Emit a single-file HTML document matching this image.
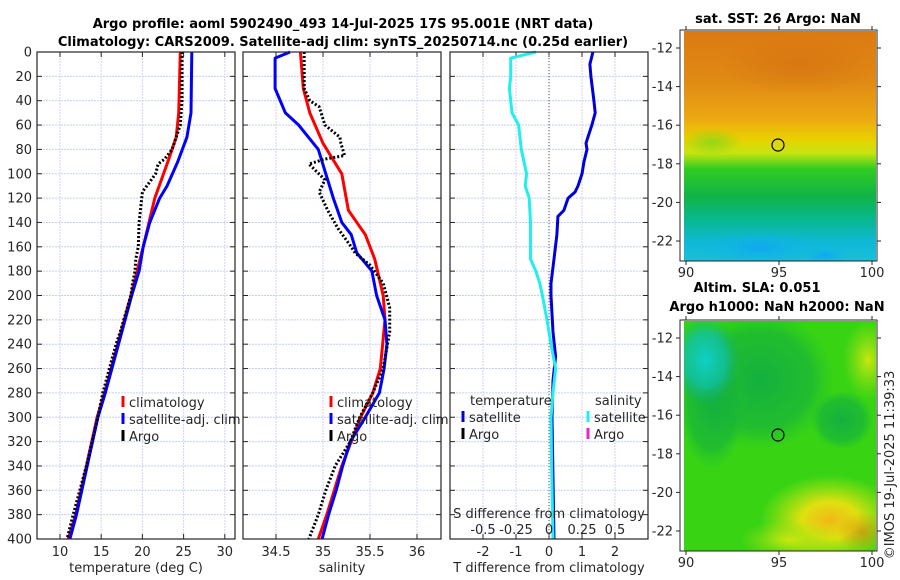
<!DOCTYPE html>
<html><head><meta charset="utf-8">
<style>
html,body{margin:0;padding:0;background:#fff;}
svg{display:block;font-family:"DejaVu Sans","Liberation Sans",sans-serif;}
.tk{font-size:13px;fill:#262626;}
.tt{font-size:13px;font-weight:bold;fill:#000;}
</style></head>
<body>
<svg id="fig" width="900" height="580" viewBox="0 0 900 580" xmlns="http://www.w3.org/2000/svg">
<defs>
<clipPath id="clip1"><rect x="684" y="31" width="192" height="230"/></clipPath>
<clipPath id="clip2"><rect x="684" y="321" width="192" height="230"/></clipPath>
<linearGradient id="sstg" x1="0" y1="0" x2="0" y2="1">
<stop offset="0" stop-color="#dc7a12"/>
<stop offset="0.22" stop-color="#e08a14"/>
<stop offset="0.38" stop-color="#eda812"/>
<stop offset="0.47" stop-color="#e9d000"/>
<stop offset="0.53" stop-color="#c8e410"/>
<stop offset="0.6" stop-color="#30cc20"/>
<stop offset="0.72" stop-color="#10b448"/>
<stop offset="0.82" stop-color="#08b890"/>
<stop offset="0.92" stop-color="#10b8d8"/>
<stop offset="1" stop-color="#18c0d8"/>
</linearGradient>
<radialGradient id="cyanblob" cx="0.5" cy="0.5" r="0.5">
<stop offset="0" stop-color="#10d0c8"/><stop offset="0.6" stop-color="#10c0a0" stop-opacity="0.8"/><stop offset="1" stop-color="#10b070" stop-opacity="0"/>
</radialGradient>
<radialGradient id="darkgreen" cx="0.5" cy="0.5" r="0.5">
<stop offset="0" stop-color="#14b040"/><stop offset="0.7" stop-color="#18b438" stop-opacity="0.7"/><stop offset="1" stop-color="#20c030" stop-opacity="0"/>
</radialGradient>
<radialGradient id="yellowblob" cx="0.5" cy="0.5" r="0.5">
<stop offset="0" stop-color="#f0b818"/><stop offset="0.4" stop-color="#e0e010"/><stop offset="1" stop-color="#c0e810" stop-opacity="0"/>
</radialGradient>
<radialGradient id="ylgr" cx="0.5" cy="0.5" r="0.5">
<stop offset="0" stop-color="#c8e810"/><stop offset="1" stop-color="#a0e010" stop-opacity="0"/>
</radialGradient>
<radialGradient id="blueblob" cx="0.5" cy="0.5" r="0.5">
<stop offset="0" stop-color="#10a8f0"/><stop offset="1" stop-color="#10b8e0" stop-opacity="0"/>
</radialGradient>
<radialGradient id="greensoft" cx="0.5" cy="0.5" r="0.5">
<stop offset="0" stop-color="#60d820" stop-opacity="0.6"/><stop offset="1" stop-color="#60d820" stop-opacity="0"/>
</radialGradient>
<radialGradient id="orangesoft" cx="0.5" cy="0.5" r="0.5">
<stop offset="0" stop-color="#d06a10" stop-opacity="0.5"/><stop offset="1" stop-color="#d06a10" stop-opacity="0"/>
</radialGradient>
</defs>

<text class="tt" x="343" y="28" text-anchor="middle">Argo profile: aoml 5902490_493 14-Jul-2025 17S 95.001E (NRT data)</text>
<text class="tt" x="343" y="46" text-anchor="middle">Climatology: CARS2009. Satellite-adj clim: synTS_20250714.nc (0.25d earlier)</text>

<g id="p1"></g>
<g id="p2"></g>
<g id="p3"></g>

<!-- Map 1 -->
<g>
<text class="tt" x="778" y="23" text-anchor="middle">sat. SST: 26 Argo: NaN</text>
<g clip-path="url(#clip1)">
<rect x="684" y="31" width="192" height="230" fill="url(#sstg)"/>
<ellipse cx="712" cy="142" rx="30" ry="14" fill="url(#greensoft)"/>
<ellipse cx="760" cy="248" rx="60" ry="18" fill="url(#blueblob)"/>
<ellipse cx="825" cy="255" rx="25" ry="10" fill="url(#blueblob)"/>
<ellipse cx="800" cy="65" rx="80" ry="30" fill="url(#orangesoft)"/>
</g>
<rect x="680" y="30" width="197" height="231" fill="none" stroke="#262626" stroke-width="1"/>
<circle cx="778" cy="145" r="6" fill="none" stroke="#000" stroke-width="1.2"/>
<g id="m1ticks"></g>
</g>

<!-- Map 2 -->
<g>
<text class="tt" x="757" y="292" text-anchor="middle">Altim. SLA: 0.051</text>
<text class="tt" x="777" y="311" text-anchor="middle">Argo h1000: NaN h2000: NaN</text>
<g clip-path="url(#clip2)">
<rect x="684" y="321" width="192" height="230" fill="#38d414"/>
<ellipse cx="760" cy="380" rx="75" ry="70" fill="url(#darkgreen)"/>
<ellipse cx="712" cy="400" rx="35" ry="70" fill="url(#darkgreen)"/>
<ellipse cx="842" cy="420" rx="32" ry="30" fill="url(#darkgreen)"/>
<ellipse cx="705" cy="360" rx="35" ry="45" fill="url(#cyanblob)"/>
<ellipse cx="830" cy="520" rx="70" ry="45" fill="url(#yellowblob)"/>
<ellipse cx="790" cy="540" rx="50" ry="20" fill="url(#ylgr)"/>
<ellipse cx="868" cy="360" rx="25" ry="40" fill="url(#ylgr)"/>
<ellipse cx="862" cy="532" rx="25" ry="20" fill="url(#orangesoft)"/>
</g>
<rect x="680" y="320" width="197" height="231" fill="none" stroke="#262626" stroke-width="1"/>
<circle cx="778" cy="435" r="6" fill="none" stroke="#000" stroke-width="1.2"/>
<g id="m2ticks"></g>
</g>

<text class="tk" transform="translate(894,465) rotate(-90)" text-anchor="middle">©IMOS 19-Jul-2025 11:39:33</text>
</svg>

<script>
// ---------------- DATA ----------------
const depthTicks = [0,20,40,60,80,100,120,140,160,180,200,220,240,260,280,300,320,340,360,380,400];
const tTicks = [10,15,20,25,30];
const sTicks = [34.5,35,35.5,36];
const dtTicks = [-2,-1,0,1,2];
const dsTicks = [-0.5,-0.25,0,0.25,0.5];
const dsTickLabels = ["-0.5","-0.25","0","0.25","0.5"];

const climTDepth = [0,50,70,90,120,160,200,240,280,300,340,380,400];
const climT      = [24.6,24.4,24.1,23.1,21.5,20.1,18.6,17.0,15.4,14.5,13.2,11.9,11.0];
const satTDepth  = [0,50,70,90,110,120,140,160,180,200,240,280,300,340,380,400];
const satT       = [26.0,25.9,25.4,24.3,23.0,22.1,20.9,20.1,19.6,18.7,17.1,15.5,14.6,13.3,12.0,11.2];
const argoTDepth = [0,40,60,70,80,88,92,100,115,140,160,170,180,190,200,230,240,280,300,340,380,400];
const argoT      = [24.8,24.8,24.6,24.1,23.6,22.7,21.9,21.6,20.0,19.6,19.5,19.2,19.1,18.8,18.6,17.3,16.8,15.2,14.6,13.2,11.6,10.85];

const climSDepth = [0,30,50,75,100,130,150,170,200,220,260,280,300,340,380,400];
const climS      = [34.76,34.79,34.86,35.0,35.2,35.27,35.45,35.55,35.64,35.66,35.61,35.53,35.4,35.2,35.04,34.95];
const satSDepth  = [0,5,30,50,60,80,100,120,140,150,165,180,200,220,240,260,280,300,320,340,360,380,400];
const satS       = [34.65,34.49,34.49,34.6,34.74,34.95,35.03,35.11,35.2,35.3,35.36,35.52,35.57,35.66,35.68,35.65,35.6,35.45,35.29,35.21,35.14,35.06,34.99];
const argoSDepth = [0,30,40,45,60,70,75,85,88,92,95,105,115,130,145,160,165,175,190,210,230,260,280,300,320,340,360,380,400];
const argoS      = [34.8,34.8,34.86,34.96,35.02,35.18,35.19,35.23,35.02,34.85,34.89,35.02,34.96,35.05,35.16,35.3,35.34,35.5,35.64,35.71,35.71,35.64,35.53,35.39,35.29,35.13,35.03,34.95,34.85];

const dTDepth = [0,10,20,40,50,60,70,75,80,90,100,110,115,120,130,135,150,170,190,200,215,230,250,270,300,350,400];
const dT      = [1.33,1.24,1.27,1.36,1.4,1.3,1.18,1.12,1.15,1.06,1.0,0.88,0.79,0.58,0.45,0.27,0.24,0.15,0.06,0.06,0.09,0.12,0.2,0.12,0.09,0.12,0.15];
const dSDepth = [0,5,20,30,50,60,80,90,100,110,120,140,160,170,180,190,200,220,240,260,280,300,340,400];
const dS      = [-0.1,-0.29,-0.29,-0.3,-0.28,-0.23,-0.21,-0.19,-0.17,-0.18,-0.15,-0.14,-0.14,-0.14,-0.1,-0.07,-0.05,-0.015,0.015,0.05,0.03,0.015,0.02,0.03];

const mapLonTicks = [90,95,100];
const mapLatTicks = [-12,-14,-16,-18,-20,-22];

// ---------------- AXES ----------------
const NS = "http://www.w3.org/2000/svg";
const Y0 = 52, Y1 = 539;
const yD = d => Y0 + d * (Y1 - Y0) / 400;
const P1 = {l:37, r:235};
const P2 = {l:243, r:441};
const P3 = {l:450, r:648};
const xT = t => 60 + (t - 10) * 8.24;
const xS = s => 323 + (s - 35) * 94;
const xDT = v => 549 + v * 33;
const xDS = v => 549 + v * 132;
const lonX = lon => 686 + (lon - 90) * 18.6;
const latY1 = lat => 48 + (-12 - lat) * 19.3;
const latY2 = lat => 338 + (-12 - lat) * 19.3;

function mk(tag, attrs, parent, text) {
  const e = document.createElementNS(NS, tag);
  for (const k in attrs) e.setAttribute(k, attrs[k]);
  if (text !== undefined) e.textContent = text;
  parent.appendChild(e);
  return e;
}

function frame(g, P, xs, xf, labels, showY, xlabel) {
  mk('rect', {x:P.l, y:Y0, width:P.r-P.l, height:Y1-Y0, fill:'#fff'}, g);
  depthTicks.forEach(d => {
    if (d>0 && d<400) mk('line', {x1:P.l, x2:P.r, y1:yD(d), y2:yD(d), stroke:'#c6cff2', 'stroke-width':1, 'stroke-dasharray':'2,1'}, g);
  });
  xs.forEach(v => {
    const x = xf(v);
    if (x > P.l+1 && x < P.r-1) mk('line', {x1:x, x2:x, y1:Y0, y2:Y1, stroke:'#d2d2f0', 'stroke-width':1, 'stroke-dasharray':'2,1'}, g);
  });
  depthTicks.forEach(d => {
    mk('line', {x1:P.l, x2:P.l+5, y1:yD(d), y2:yD(d), stroke:'#262626'}, g);
    mk('line', {x1:P.r, x2:P.r-5, y1:yD(d), y2:yD(d), stroke:'#262626'}, g);
    if (showY) {
      const t = mk('text', {class:'tk', x:P.l-5, y:yD(d)+4.5, 'text-anchor':'end'}, g, String(d));
      
      
    }
  });
  xs.forEach((v, i) => {
    const x = xf(v);
    mk('line', {x1:x, x2:x, y1:Y1, y2:Y1-5, stroke:'#262626'}, g);
    mk('line', {x1:x, x2:x, y1:Y0, y2:Y0+5, stroke:'#262626'}, g);
    const t = mk('text', {class:'tk', x:x, y:Y1+17, 'text-anchor':'middle'}, g, labels ? labels[i] : String(v));
    
    
  });
  const xl = mk('text', {class:'tk', x:(P.l+P.r)/2, y:572, 'text-anchor':'middle'}, g, xlabel);
  
  
}

function border(g, P) {
  mk('rect', {x:P.l, y:Y0, width:P.r-P.l, height:Y1-Y0, fill:'none', stroke:'#262626', 'stroke-width':1.2}, g);
}

function series(g, depths, vals, xf, color, w, dash, name) {
  const pts = depths.map((d, i) => xf(vals[i]).toFixed(1) + ',' + yD(d).toFixed(1)).join(' ');
  const a = {points:pts, fill:'none', stroke:color, 'stroke-width':w, 'stroke-linejoin':'round'};
  if (dash) a['stroke-dasharray'] = dash;
  const p = mk('polyline', a, g);
  
  
}

function legendItem(g, x, y, color, label, name) {
  mk('rect', {x:x-1.5, y:y-11, width:3, height:11, fill:color}, g);
  const t = mk('text', {class:'tk', x:x+6, y:y}, g, label);
  
  
}

// Panel 1
const g1 = document.getElementById('p1');
frame(g1, P1, tTicks, xT, null, true, 'temperature (deg C)');
series(g1, climTDepth, climT, xT, '#ff0000', 3, null, 'climatology-temperature-line');
series(g1, satTDepth, satT, xT, '#0000ff', 3, null, 'satellite-temperature-line');
series(g1, argoTDepth, argoT, xT, '#000', 3, '2,2', 'argo-temperature-line');
legendItem(g1, 123, 407, '#ff0000', 'climatology', 'legend-climatology');
legendItem(g1, 123, 424, '#0000ff', 'satellite-adj. clim', 'legend-satellite');
legendItem(g1, 123, 441, '#000', 'Argo', 'legend-argo');
border(g1, P1);

// Panel 2
const g2 = document.getElementById('p2');
frame(g2, P2, sTicks, xS, null, false, 'salinity');
series(g2, climSDepth, climS, xS, '#ff0000', 3, null, 'climatology-salinity-line');
series(g2, satSDepth, satS, xS, '#0000ff', 3, null, 'satellite-salinity-line');
series(g2, argoSDepth, argoS, xS, '#000', 3, '2,2', 'argo-salinity-line');
legendItem(g2, 331, 407, '#ff0000', 'climatology', 'legend-climatology-2');
legendItem(g2, 331, 424, '#0000ff', 'satellite-adj. clim', 'legend-satellite-2');
legendItem(g2, 331, 441, '#000', 'Argo', 'legend-argo-2');
border(g2, P2);

// Panel 3
const g3 = document.getElementById('p3');
frame(g3, P3, dtTicks, xDT, null, false, 'T difference from climatology');
mk('line', {x1:xDT(0), x2:xDT(0), y1:Y0, y2:Y1, stroke:'#555', 'stroke-width':1, 'stroke-dasharray':'1,2'}, g3);
series(g3, dTDepth, dT, xDT, '#0000dd', 3, null, 'temperature-difference-line');
series(g3, dSDepth, dS, xDS, '#22eeee', 3, null, 'salinity-difference-line');
const lt = mk('text', {class:'tk', x:470, y:405}, g3, 'temperature');


const ls = mk('text', {class:'tk', x:595, y:405}, g3, 'salinity');


legendItem(g3, 463, 422, '#0000dd', 'satellite', 'legend-temp-satellite');
legendItem(g3, 463, 439, '#000', 'Argo', 'legend-temp-argo');
legendItem(g3, 588, 422, '#22eeee', 'satellite', 'legend-sal-satellite');
legendItem(g3, 588, 439, '#ee22cc', 'Argo', 'legend-sal-argo');
const sdt = mk('text', {class:'tk', x:549, y:518, 'text-anchor':'middle'}, g3, 'S difference from climatology');


dsTicks.forEach((v, i) => {
  const t = mk('text', {class:'tk', x:xDS(v), y:534, 'text-anchor':'middle'}, g3, dsTickLabels[i]);
  
  
});
border(g3, P3);

// Map ticks
function mapTicks(id, top, bot, latY) {
  const g = document.getElementById(id);
  mapLonTicks.forEach(lon => {
    const x = lonX(lon);
    mk('line', {x1:x, x2:x, y1:top, y2:top-4, stroke:'#262626'}, g);
    mk('line', {x1:x, x2:x, y1:bot, y2:bot+4, stroke:'#262626'}, g);
    const t = mk('text', {class:'tk', x:x, y:bot+16, 'text-anchor':'middle'}, g, String(lon));
    
    
  });
  mapLatTicks.forEach(lat => {
    const y = latY(lat);
    mk('line', {x1:680, x2:676, y1:y, y2:y, stroke:'#262626'}, g);
    mk('line', {x1:877, x2:881, y1:y, y2:y, stroke:'#262626'}, g);
    const t = mk('text', {class:'tk', x:673, y:y+4.5, 'text-anchor':'end'}, g, String(lat));
    
    
  });
}
mapTicks('m1ticks', 30, 261, latY1);
mapTicks('m2ticks', 320, 551, latY2);
</script>
</body></html>
